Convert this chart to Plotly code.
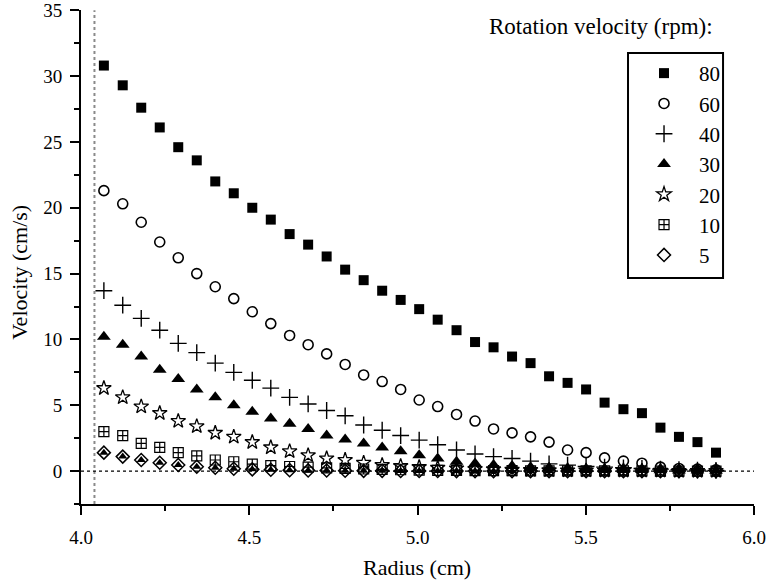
import plotly.graph_objects as go

# ---------------- data ----------------
radius_cm = [4.068, 4.124, 4.179, 4.234, 4.289, 4.344, 4.399, 4.454, 4.509, 4.564,
             4.620, 4.675, 4.730, 4.785, 4.840, 4.895, 4.950, 5.005, 5.060, 5.116,
             5.171, 5.226, 5.281, 5.336, 5.391, 5.446, 5.501, 5.556, 5.612, 5.667,
             5.722, 5.777, 5.832, 5.887]

v80 = [30.8, 29.3, 27.6, 26.1, 24.6, 23.6, 22.0, 21.1, 20.0, 19.1,
       18.0, 17.2, 16.3, 15.3, 14.5, 13.7, 13.0, 12.3, 11.5, 10.7,
       9.8, 9.4, 8.7, 8.2, 7.2, 6.7, 6.2, 5.2, 4.7, 4.4,
       3.3, 2.6, 2.2, 1.4]
v60 = [21.3, 20.3, 18.9, 17.4, 16.2, 15.0, 14.0, 13.1, 12.1, 11.2,
       10.3, 9.6, 8.9, 8.1, 7.3, 6.8, 6.2, 5.4, 4.9, 4.3,
       3.8, 3.2, 2.9, 2.6, 2.2, 1.6, 1.4, 1.0, 0.76, 0.6,
       0.3, 0.2, 0.15, 0.1]
v40 = [13.7, 12.6, 11.6, 10.7, 9.7, 9.0, 8.2, 7.5, 6.9, 6.3,
       5.6, 5.1, 4.6, 4.2, 3.5, 3.1, 2.7, 2.35, 2.0, 1.6,
       1.3, 1.1, 0.96, 0.76, 0.55, 0.45, 0.35, 0.3, 0.25, 0.2,
       0.15, 0.1, 0.08, 0.05]
v30 = [10.2, 9.6, 8.7, 7.7, 7.0, 6.2, 5.6, 5.0, 4.5, 4.0,
       3.6, 3.2, 2.7, 2.4, 2.1, 1.8, 1.5, 1.2, 0.96, 0.71,
       0.58, 0.46, 0.38, 0.3, 0.25, 0.2, 0.15, 0.12, 0.1, 0.08,
       0.06, 0.05, 0.04, 0.03]
v20 = [6.3, 5.6, 4.9, 4.4, 3.8, 3.4, 2.9, 2.6, 2.2, 1.8,
       1.5, 1.2, 0.96, 0.84, 0.63, 0.46, 0.38, 0.3, 0.25, 0.2,
       0.16, 0.13, 0.1, 0.08, 0.06, 0.05, 0.04, 0.03, 0.03, 0.02,
       0.02, 0.01, 0.01, 0.01]
v10 = [3.0, 2.7, 2.1, 1.8, 1.4, 1.16, 0.84, 0.71, 0.53, 0.42,
       0.35, 0.3, 0.25, 0.2, 0.16, 0.13, 0.1, 0.08, 0.06, 0.05,
       0.04, 0.03, 0.03, 0.02, 0.02, 0.02, 0.01, 0.01, 0.01, 0.01,
       0.0, 0.0, 0.0, 0.0]
v5 = [1.4, 1.1, 0.84, 0.63, 0.46, 0.33, 0.25, 0.18, 0.13, 0.1,
      0.07, 0.05, 0.04, 0.03, 0.02, 0.02, 0.01, 0.01, 0.01, 0.0,
      0.0, 0.0, 0.0, 0.0, 0.0, 0.0, 0.0, 0.0, 0.0, 0.0,
      0.0, 0.0, 0.0, 0.0]

series_names = ["80", "60", "40", "30", "20", "10", "5"]
series_values = [v80, v60, v40, v30, v20, v10, v5]
INNER_RADIUS = 4.04
legend_title = "Rotation velocity (rpm):"
x_title = "Radius (cm)"
y_title = "Velocity (cm/s)"

FONT = "Liberation Serif"

styles = {
    "80": dict(symbol="square", size=10, color="black", line=dict(width=0)),
    "60": dict(symbol="circle-open", size=10, color="black", line=dict(width=1.6)),
    "40": dict(symbol="cross-thin-open", size=12, color="black", line=dict(width=1.4)),
    "30": dict(symbol="triangle-up", size=12, color="black", line=dict(width=0)),
    "20": dict(symbol="star-open", size=11, color="black", line=dict(width=1.3)),
    "10": dict(symbol="square-cross-open", size=10, color="black", line=dict(width=1.2)),
    "5": dict(symbol="diamond-open", size=10, color="black", line=dict(width=1.5)),
}

fig = go.Figure()
for name, vals in zip(series_names, series_values):
    fig.add_trace(go.Scatter(x=radius_cm, y=vals, mode="markers", name=name,
                             marker=styles[name]))
# filled upper part of the half-filled diamond
fig.add_trace(go.Scatter(x=radius_cm, y=v5, mode="markers", showlegend=False,
                         marker=dict(symbol="triangle-up", size=8, color="black",
                                     line=dict(width=0)), hoverinfo="skip"))

# reference lines
fig.add_shape(type="line", xref="x", yref="y", x0=INNER_RADIUS, x1=INNER_RADIUS,
              y0=-2.5, y1=35, line=dict(color="#8a8a8a", width=2, dash="dot"), layer="below")
fig.add_shape(type="line", xref="x", yref="y", x0=4.0, x1=6.0, y0=0, y1=0,
              line=dict(color="black", width=1.3, dash="3px,3px"), layer="below")

# legend box + title
fig.add_shape(type="rect", xref="paper", yref="paper", x0=0.8128, x1=0.954,
              y0=0.4575, y1=0.913, line=dict(color="black", width=2))
fig.add_annotation(text=legend_title, xref="paper", yref="paper", x=0.772, y=0.9656,
                   showarrow=False, xanchor="center", yanchor="middle",
                   font=dict(family=FONT, size=23, color="black"))
fig.add_annotation(text=y_title, xref="paper", yref="paper", x=-0.0906, y=0.468,
                   showarrow=False, textangle=-90, xanchor="center", yanchor="middle",
                   font=dict(family=FONT, size=22, color="black"))
fig.add_annotation(text=x_title, xref="paper", yref="paper", x=0.499, y=-0.128,
                   showarrow=False, xanchor="center", yanchor="middle",
                   font=dict(family=FONT, size=22, color="black"))

axis_common = dict(showgrid=False, zeroline=False, showline=True, linecolor="black",
                   linewidth=2, ticks="outside", ticklen=9, tickwidth=2, tickcolor="black",
                   ticklabeloverflow="allow", automargin=False,
                   tickfont=dict(family=FONT, size=19, color="black"))

fig.update_xaxes(range=[4.0, 6.0], tick0=4.0, dtick=0.5, tickformat=".1f",
                 minor=dict(ticks="outside", ticklen=5, tickwidth=2, tickcolor="black", dtick=0.25),
                 ticklabelstandoff=6, **axis_common)
fig.update_yaxes(range=[-2.5, 35.02], tick0=0, dtick=5,
                 minor=dict(ticks="outside", ticklen=5, tickwidth=2, tickcolor="black", dtick=2.5),
                 ticklabelstandoff=4, **axis_common)

fig.update_layout(
    width=769, height=580,
    margin=dict(l=81, r=15, t=10, b=76, autoexpand=False),
    plot_bgcolor="white", paper_bgcolor="white",
    font=dict(family=FONT, size=19, color="black"),
    legend=dict(x=0.8143, y=0.913, xanchor="left", yanchor="top",
                itemwidth=60, bgcolor="rgba(0,0,0,0)", borderwidth=0,
                font=dict(family=FONT, size=21, color="black")),
)

fig.write_html("out.html")
